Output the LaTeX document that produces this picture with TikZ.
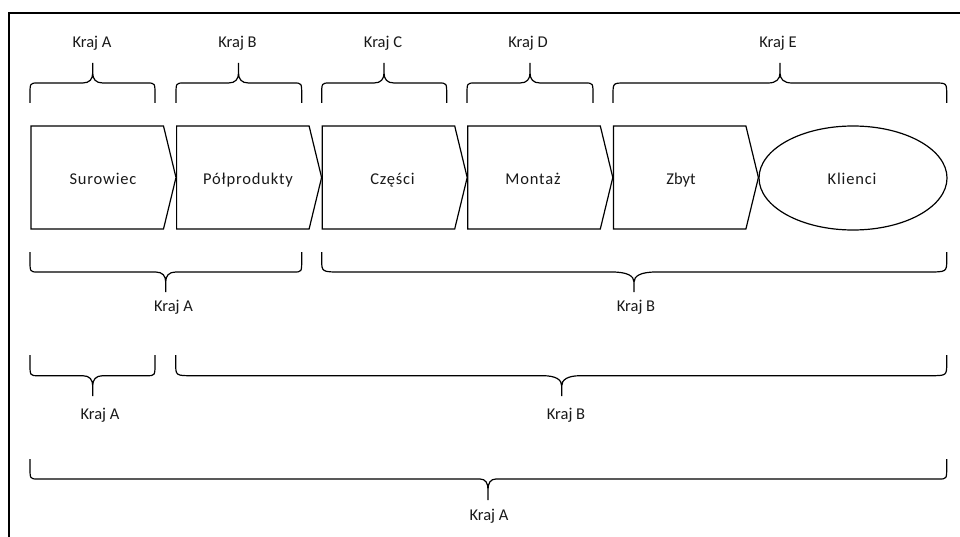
\documentclass[tikz,border=0pt]{standalone}
\usepackage{fontspec}
\setmainfont{Carlito}
\newfontfamily\spacedfont[LetterSpace=5]{Carlito}
\usetikzlibrary{shapes.geometric}
\tikzset{
  shp/.style={draw=black, line width=1.2pt, line join=miter},
  brc/.style={draw=black, line width=1.2pt},
  frm/.style={draw=black, line width=1.6pt},
  lbl/.style={font=\fontsize{16.5}{18}\selectfont, anchor=base, inner sep=0pt, text=black!90},
  slbl/.style={font=\spacedfont\fontsize{16.5}{18}\selectfont, anchor=base, inner sep=0pt, text=black!90}
}
% a b m e h t r c
\newcommand{\mybrace}[8]{%
  \draw[brc] (#1,#4) -- (#1,{#4+0.4*(#5-#4)}) .. controls (#1,#5) .. ({#1+#7},#5)
    -- ({#3-#8},#5) .. controls ({#3-0.3*#8},#5) and (#3,{#5+0.2*(#6-#5)}) .. (#3,{#5+0.5*(#6-#5)}) -- (#3,#6)
    (#3,{#5+0.5*(#6-#5)}) .. controls (#3,{#5+0.2*(#6-#5)}) and ({#3+0.3*#8},#5) .. ({#3+#8},#5)
    -- ({#2-#7},#5) .. controls (#2,#5) .. (#2,{#4+0.4*(#5-#4)}) -- (#2,#4);%
}
\newcommand{\mychev}[1]{%
  \draw[shp] (#1,126) -- ({#1+132.5},126) -- ({#1+145},177.5) -- ({#1+132.5},229) -- (#1,229) -- cycle;%
}
\begin{document}
\begin{tikzpicture}[x=1pt, y=-1pt]
\useasboundingbox (0,0) rectangle (960,537);
% frame
\draw[frm] (960,13) -- (9,13) -- (9,537);
% chevrons
\mychev{31}
\mychev{176.6}
\mychev{322.2}
\mychev{467.8}
\mychev{613.4}
\node[shp, ellipse, minimum width=188pt, minimum height=104pt, inner sep=0pt] (klienci) at (853,178) {};
\node[slbl] (t1) at (103,185) {Surowiec};
\node[slbl] (t2) at (248,185) {Półprodukty};
\node[slbl] (t3) at (392.5,185) {Części};
\node[slbl] (t4) at (533,185) {Montaż};
\node[lbl] (t5) at (681,185) {Zbyt};
\node[slbl] (t6) at (852,185) {Klienci};
% top braces
\mybrace{30}{155}{92.7}{103}{83}{63}{8}{10}
\mybrace{176}{301.7}{238.5}{103}{83}{63}{8}{10}
\mybrace{321.7}{446.7}{384}{103}{83}{63}{8}{10}
\mybrace{467}{593}{530}{103}{83}{63}{8}{10}
\mybrace{613}{946.7}{780}{103}{83}{63}{12}{12}
\node[lbl] (la) at (92,48) {Kraj A};
\node[lbl] (lb) at (237.5,48) {Kraj B};
\node[lbl] (lc) at (383,48) {Kraj C};
\node[lbl] (ld) at (528,48) {Kraj D};
\node[lbl] (le) at (778,48) {Kraj E};
% row 1
\mybrace{30}{301.7}{165.7}{252}{272}{292}{8}{10}
\mybrace{321.7}{946.7}{634}{252}{272}{292}{20}{22}
\node[lbl] (r1a) at (173.5,311) {Kraj A};
\node[lbl] (r1b) at (636,311) {Kraj B};
% row 2
\mybrace{30}{155}{92.7}{355}{375.7}{396}{8}{10}
\mybrace{175.7}{946.7}{561.7}{355}{375.7}{396}{17}{19}
\node[lbl] (r2a) at (100,419) {Kraj A};
\node[lbl] (r2b) at (566,419) {Kraj B};
% row 3
\mybrace{30}{946.7}{488}{459}{479}{500}{8}{8}
\node[lbl] (r3a) at (489,520) {Kraj A};
\end{tikzpicture}
\end{document}
